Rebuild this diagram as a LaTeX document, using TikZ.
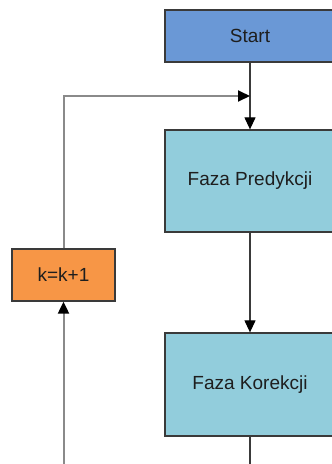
\documentclass[tikz,border=0pt]{standalone}
\usepackage{fontspec}
\setmainfont{Liberation Sans}
\usetikzlibrary{arrows.meta,positioning}

\definecolor{startblue}{HTML}{6A98D6}
\definecolor{phasecyan}{HTML}{92CDDC}
\definecolor{incorange}{HTML}{F79646}
\definecolor{boxedge}{HTML}{3A3A3A}
\definecolor{loopgray}{HTML}{8A8A8A}
\definecolor{textdark}{HTML}{1E1E1E}

\tikzset{
    block/.style={draw=boxedge, line width=1.3pt, font=\fontsize{19}{23}\selectfont, text=textdark},
    flow/.style={draw=boxedge, line width=1.2pt},
    backloop/.style={draw=loopgray, line width=2pt},
    tip/.style={-{Triangle[length=12pt,width=11pt,color=black]}}
}

\begin{document}
\begin{tikzpicture}[x=1pt, y=-1pt]
                                \clip (0, 0) rectangle (332, 464);
                                \node[block, fill=startblue, minimum width=170pt, minimum height=52pt] (start) at (250, 36) {Start};
                                \node[block, fill=phasecyan, minimum width=170pt, minimum height=102pt] (pred) at (250, 181) {Faza Predykcji};
                                \node[block, fill=phasecyan, minimum width=170pt, minimum height=103pt] (kor) at (250, 384.5) {Faza Korekcji};
                                \node[block, fill=incorange, minimum width=103pt, minimum height=52pt] (inc) at (63.5, 275) {k=k+1};
                                \coordinate (join) at (250, 96);
                                \coordinate (korout) at (250, 464);
                                \coordinate (loopin) at (63.5, 464);
                                \draw[flow, tip] (start) -- (pred);
                                \draw[flow, tip] (pred) -- (kor);
                                \draw[flow] (kor) -- (korout);
                                \draw[backloop, tip] (loopin) -- (inc);
                                \draw[backloop, tip] (inc) |- (join);
                            \end{tikzpicture}
\end{document}
